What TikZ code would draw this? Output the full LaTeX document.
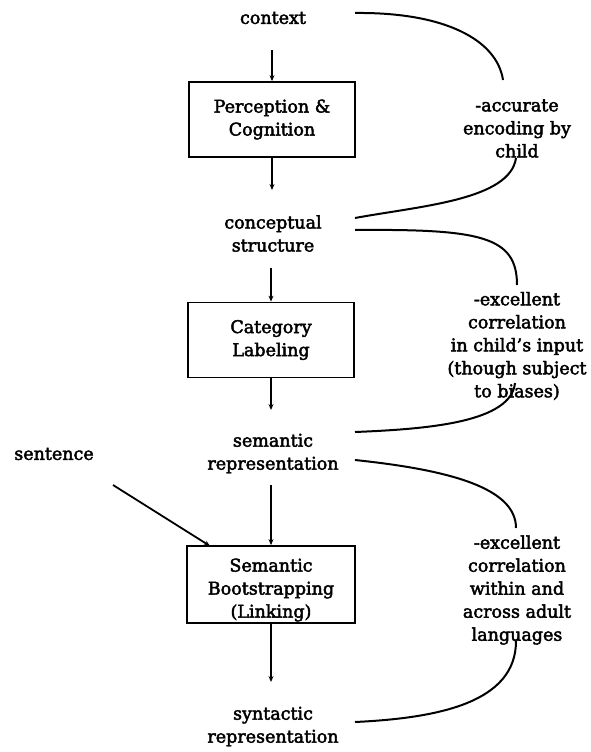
\documentclass[tikz,border=0pt]{standalone}
\usepackage{fontspec}
\setmainfont[FakeBold=2.5]{DejaVu Serif}
\usetikzlibrary{arrows.meta}
\begin{document}
\begin{tikzpicture}[x=1pt,y=-1pt,
  font=\fontsize{17.5}{23}\selectfont,
  boxnode/.style={draw, line width=1.8pt, minimum width=166pt, minimum height=75pt, inner sep=0pt, align=center},
  txt/.style={align=center, inner sep=0pt},
  arr/.style={line width=1.8pt, -{Stealth[length=6pt,width=5pt]}},
  crv/.style={line width=2pt}]
\useasboundingbox (0,0) rectangle (590,752);
% left column text
\node[txt] (ctx) at (273,18) {context};
\node[boxnode] (b1) at (272,119.5) {Perception \&\\Cognition};
\node[txt] (cs) at (273,233.5) {conceptual\\structure};
\node[boxnode] (b2) at (271,340) {Category\\Labeling};
\node[txt] (sr) at (273,453.5) {semantic\\representation};
\node[boxnode, minimum width=168pt, minimum height=77pt] (b3) at (271,584.5) {};
\node[txt] (b3t) at (271,590) {Semantic\\Bootstrapping\\(Linking)};
\node[txt] (syn) at (273,726.5) {syntactic\\representation};
\node[txt] (sent) at (54,454) {sentence};
% right labels
\node[txt] (l1) at (517,128.5) {-accurate\\encoding by\\child};
\node[txt] (l2) at (517,346) {-excellent\\correlation\\in child's input\\(though subject\\to biases)};
\node[txt] (l3) at (517,590) {-excellent\\correlation\\within and\\across adult\\languages};
% arrow coordinates
\coordinate (a1) at (272,50);
\coordinate (a2) at (272,190);
\coordinate (a3) at (271,268);
\coordinate (a4) at (271,410);
\coordinate (a5) at (271,485);
\coordinate (a6) at (271,682);
\coordinate (a7) at (113,485);
\coordinate (a8) at (210,546);
\draw[arr] (a1) -- (b1.north);
\draw[arr] (b1.south) -- (a2);
\draw[arr] (a3) -- (b2.north);
\draw[arr] (b2.south) -- (a4);
\draw[arr] (a5) -- (b3.north);
\draw[arr] (b3.south) -- (a6);
\draw[arr] (a7) -- (a8);
% curve coordinates
\coordinate (c1s) at (355,13);
\coordinate (c1e) at (503,80);
\coordinate (c1f) at (516,158);
\coordinate (c1g) at (355,218);
\coordinate (c2s) at (355,230);
\coordinate (c2e) at (517,285);
\coordinate (c2f) at (515,383);
\coordinate (c2g) at (355,432);
\coordinate (c3s) at (355,460);
\coordinate (c3e) at (516,528);
\coordinate (c3f) at (516,641);
\coordinate (c3g) at (355,722);
\draw[crv] (c1s) .. controls (445,12) and (497,40) .. (c1e);
\draw[crv] (c1f) .. controls (510,200) and (420,206) .. (c1g);
\draw[crv] (c2s) .. controls (480,229) and (517,236) .. (c2e);
\draw[crv] (c2f) .. controls (511,422) and (430,429) .. (c2g);
\draw[crv] (c3s) .. controls (450,470) and (516,488) .. (c3e);
\draw[crv] (c3f) .. controls (516,702) and (440,718) .. (c3g);
\end{tikzpicture}
\end{document}
